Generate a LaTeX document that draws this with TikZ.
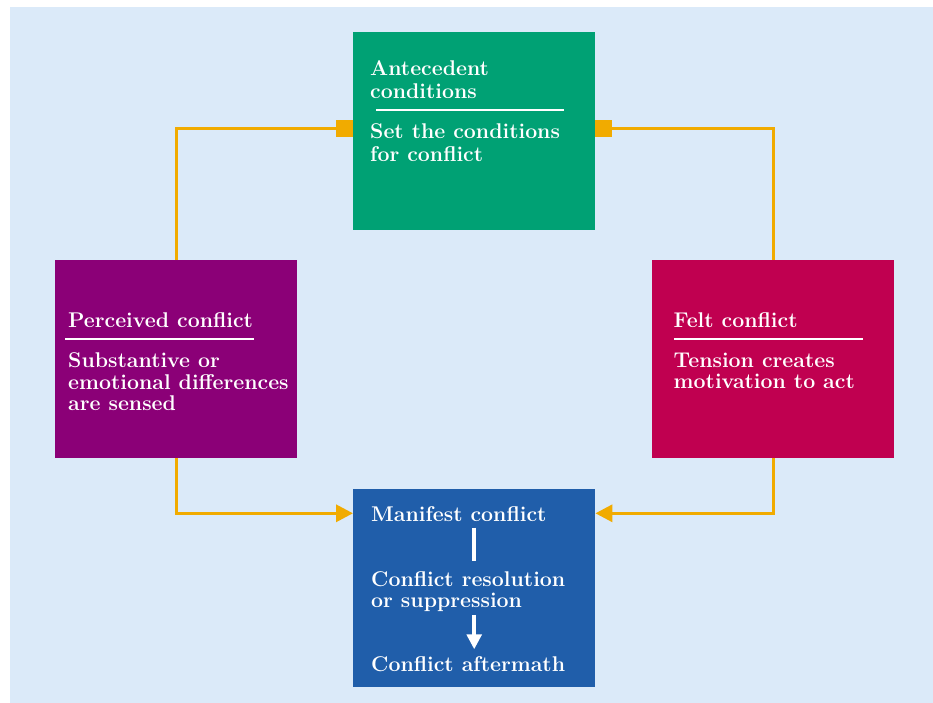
\documentclass[tikz,border=0pt]{standalone}
\usepackage{tikz}
\usetikzlibrary{arrows.meta, positioning, calc}
\definecolor{PanelBlue}{RGB}{219,234,249}
\definecolor{AnteGreen}{RGB}{0,161,116}
\definecolor{PercPurple}{RGB}{139,0,119}
\definecolor{FeltRed}{RGB}{192,0,80}
\definecolor{ManiBlue}{RGB}{32,94,170}
\definecolor{LinkOrange}{RGB}{241,171,0}

\begin{document}
\begin{tikzpicture}[x=1pt, y=-1pt,
	blk/.style={rectangle, minimum width=242pt, minimum height=198pt, inner sep=0pt, anchor=north west},
	txt/.style={anchor=north west, inner sep=0pt, align=left, text=white, font=\fontsize{21.3}{21.5}\selectfont\bfseries},
	hrule/.style={white, line width=2.2pt},
	link/.style={LinkOrange, line width=3.3pt}]
	\useasboundingbox (0,0) rectangle (933,703);
	\fill[PanelBlue] (10,7) rectangle (933,703);
	% boxes
	\foreach \n/\c/\x/\y in {ante/AnteGreen/353/32, perc/PercPurple/55/260, felt/FeltRed/652/260, mani/ManiBlue/353/489}
		{\node[blk, fill=\c] (\n) at (\x,\y) {};}
	% antecedent conditions
	\node[txt, font=\fontsize{21.3}{23.3}\selectfont\bfseries] (anteHead) at (370,60.2) {Antecedent\\conditions};
	\node[txt, font=\fontsize{21.3}{23.3}\selectfont\bfseries] (anteBody) at (370,123.5) {Set the conditions\\for conflict};
	% perceived conflict
	\node[txt] (percHead) at (68,312.5) {Perceived conflict};
	\node[txt] (percBody) at (68,352.5) {Substantive or\\emotional differences\\are sensed};
	% felt conflict
	\node[txt] (feltHead) at (673.5,312.3) {Felt conflict};
	\node[txt] (feltBody) at (673.5,352.5) {Tension creates\\motivation to act};
	% manifest conflict
	\node[txt] (maniHead) at (371,506.2) {Manifest conflict};
	\node[txt] (maniRes) at (371,570.9) {Conflict resolution\\or suppression};
	\node[txt] (maniAfter) at (371,655.9) {Conflict aftermath};
	% rules under the headings
	\foreach \a/\b/\y in {376/564/110, 65/254/339.3, 674/863/339.3}
		{\draw[hrule] (\a,\y) -- (\b,\y);}
	\draw[white, line width=4pt, shorten <=6pt, shorten >=10pt]
		(maniHead.south -| mani.center) -- (maniRes.north -| mani.center);
	\draw[white, line width=4pt, -{Triangle[length=15pt, width=14.7pt]}, shorten <=3pt, shorten >=6.6pt]
		(maniRes.south -| mani.center) -- (maniAfter.north -| mani.center);
	% connectors
	\draw[link, -{Rectangle[length=17pt, width=17pt]}] (perc.north) |- ([yshift=2.7pt]ante.west);
	\draw[link, -{Rectangle[length=17pt, width=17pt]}] (felt.north) |- ([yshift=2.7pt]ante.east);
	\draw[link, -{Triangle[length=17pt, width=17pt]}] (perc.south) |- ([yshift=-24.3pt]mani.north west);
	\draw[link, -{Triangle[length=17pt, width=17pt]}] (felt.south) |- ([yshift=-24.3pt]mani.north east);
\end{tikzpicture}
\end{document}
